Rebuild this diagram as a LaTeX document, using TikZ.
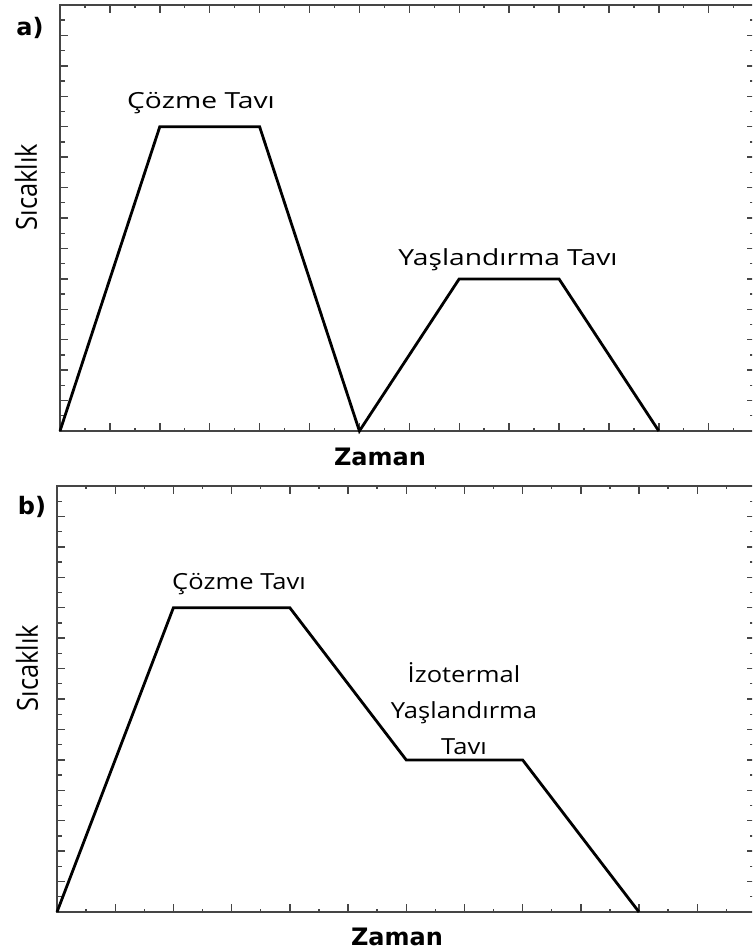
\documentclass[tikz,border=0pt]{standalone}
\usepackage{fontspec}
\setmainfont{Open Sans}
\newfontfamily\heavysans{DejaVu Sans}
\begin{document}
\begin{tikzpicture}[x=1pt,y=-1pt,
  axisline/.style={draw=axisgray, line width=1.4pt},
  profile/.style={draw=black, line width=2.8pt, line join=miter},
  curvelabel/.style={inner sep=0pt, anchor=base, font=\fontsize{22.2}{26}\selectfont},
  axislabel/.style={inner sep=0pt, anchor=base, font=\heavysans\bfseries\fontsize{24}{28}\selectfont},
  panellabel/.style={inner sep=0pt, anchor=base, font=\heavysans\bfseries\fontsize{24}{28}\selectfont},
  ylabel/.style={inner sep=0pt, anchor=center, rotate=90, font=\fontsize{25}{30}\selectfont}]
\definecolor{axisgray}{HTML}{454545}
\useasboundingbox (0,0) rectangle (752,950);
\clip (0,0) rectangle (752,950);

% ---------- panel a: frame and ticks ----------
\draw[axisline] (60,5) rectangle (755,431);
\foreach \k in {1,...,28} {
  \pgfmathsetmacro\xx{60+24.95*\k}
  \pgfmathsetmacro\len{mod(\k,2)==0 ? 8 : 3}
  \draw[axisline] (\xx,431) -- ++(0,-\len);
  \draw[axisline] (\xx,5) -- ++(0,\len);
}
\foreach \k in {1,...,27} {
  \pgfmathsetmacro\yy{431-15.215*\k}
  \pgfmathsetmacro\len{mod(\k,2)==0 ? 8 : 5}
  \draw[axisline] (60,\yy) -- ++(\len,0);
  \draw[axisline] (755,\yy) -- ++(-\len,0);
}

% panel a: heat treatment profile
\coordinate (a0) at (60,431);
\coordinate (a1) at (159.8,126.7);
\coordinate (a2) at (259.6,126.7);
\coordinate (a3) at (359.4,431);
\coordinate (a4) at (459.2,278.9);
\coordinate (a5) at (559,278.9);
\coordinate (a6) at (658.8,431);
\draw[profile] (a0) -- (a1) -- (a2) -- (a3) -- (a4) -- (a5) -- (a6);

\node[panellabel] (alabel) at (30,36) {a)};
\node[curvelabel] (asol) at (201,108) {\scalebox{1.27}[1]{Çözme Tavı}};
\node[curvelabel] (aage) at (508,265) {\scalebox{1.27}[1]{Yaşlandırma Tavı}};
\node[ylabel] (atemp) at (26,187) {\scalebox{1.02}[1.16]{Sıcaklık}};
\node[axislabel] (atime) at (380,465) {Zaman};

% ---------- panel b: frame and ticks ----------
\draw[axisline] (57,486) rectangle (755,912);
\foreach \k in {1,...,24} {
  \pgfmathsetmacro\xx{57+29.1*\k}
  \pgfmathsetmacro\len{mod(\k,2)==0 ? 8 : 3}
  \draw[axisline] (\xx,912) -- ++(0,-\len);
  \draw[axisline] (\xx,486) -- ++(0,\len);
}
\foreach \k in {1,...,27} {
  \pgfmathsetmacro\yy{912-15.215*\k}
  \pgfmathsetmacro\len{mod(\k,2)==0 ? 8 : 5}
  \draw[axisline] (57,\yy) -- ++(\len,0);
  \draw[axisline] (755,\yy) -- ++(-\len,0);
}

% panel b: heat treatment profile with isothermal ageing
\coordinate (b0) at (57,912);
\coordinate (b1) at (173.4,607.7);
\coordinate (b2) at (289.8,607.7);
\coordinate (b3) at (406.2,759.9);
\coordinate (b4) at (522.6,759.9);
\coordinate (b5) at (639,912);
\draw[profile] (b0) -- (b1) -- (b2) -- (b3) -- (b4) -- (b5);

\node[panellabel] (blabel) at (32,514) {b)};
\node[curvelabel] (bsol) at (239,589) {\scalebox{1.15}[1]{Çözme Tavı}};
\node[curvelabel] (biso1) at (464,682) {\scalebox{1.15}[1]{İzotermal}};
\node[curvelabel] (biso2) at (464,718) {\scalebox{1.15}[1]{Yaşlandırma}};
\node[curvelabel] (biso3) at (464,754) {\scalebox{1.15}[1]{Tavı}};
\node[ylabel] (btemp) at (27,668) {\scalebox{1.02}[1.16]{Sıcaklık}};
\node[axislabel] (btime) at (397,945) {Zaman};
\end{tikzpicture}
\end{document}
